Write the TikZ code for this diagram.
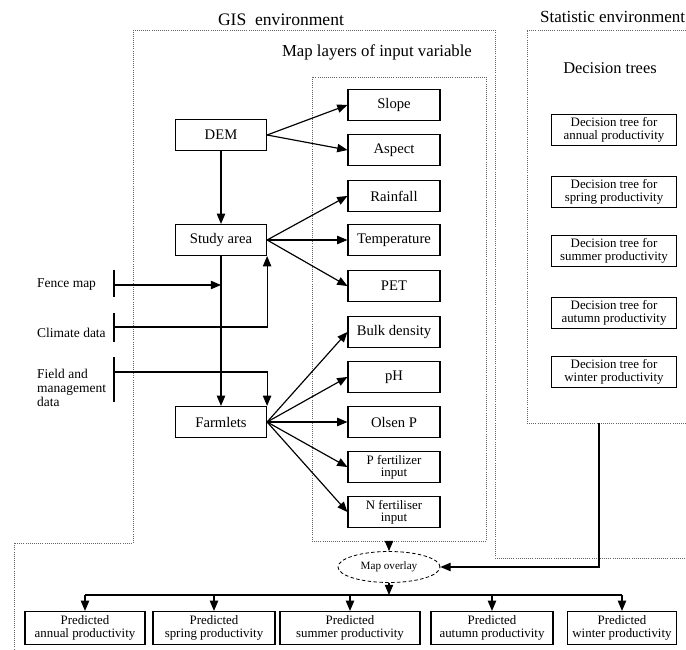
\documentclass[tikz,border=0pt]{standalone}
\usepackage{fontspec}
\setmainfont{Liberation Serif}
\usetikzlibrary{shapes.geometric, arrows}

\tikzset{
  env/.style={draw=gray!80!black, densely dotted, line width=0.8pt},
  proc/.style={draw, line width=1pt, minimum width=2.73cm, minimum height=0.93cm, inner sep=1pt, font=\fontsize{12.5}{12}\selectfont},
  layer/.style={proc, minimum width=2.76cm, align=center},
  tree/.style={draw, line width=1pt, minimum width=3.75cm, minimum height=0.93cm, inner sep=1pt, align=center, font=\fontsize{11}{10.5}\selectfont},
  result/.style={draw, line width=1pt, minimum height=0.99cm, inner sep=1pt, align=center, font=\fontsize{11}{10.5}\selectfont},
  side/.style={anchor=west, align=left, inner sep=0pt, font=\fontsize{11.5}{12}\selectfont},
  conn/.style={-triangle 45, line width=1pt},
}

\begin{document}
\begin{tikzpicture}[x=0.03cm, y=-0.03cm]
    \useasboundingbox (0,0) rectangle (686,650);
    \clip (0,0) rectangle (686,650);

    % environments
    \draw[env] (700,558) -- (495,558) -- (495,30) -- (133,30) -- (133,543) -- (14,543) -- (14,660);
    \node[font=\fontsize{15}{15}\selectfont] (gislbl) at (281,20) {GIS\ \ environment};
    \node[env, minimum width=5.22cm, minimum height=13.92cm] (layers) at (399,309) {};
    \node[font=\fontsize{14.3}{14}\selectfont] (layerslbl) at (377,52) {Map layers of input variable};
    \node[env, minimum width=5.19cm, minimum height=11.79cm] (stat) at (613.5,226.5) {};
    \node[anchor=west, font=\fontsize{14.5}{14}\selectfont] (statlbl) at (536,17) {Statistic environment};
    \node[font=\fontsize{14}{14}\selectfont] (treeslbl) at (610,68) {Decision trees};

    % GIS processing
    \node[proc] (dem) at (221,135) {DEM};
    \node[proc] (study) at (221,240) {Study area};
    \node[proc] (farm) at (221,422) {Farmlets};

    % map layers
    \foreach \name/\y/\txt in {slope/105/Slope, aspect/150/Aspect, rain/196/Rainfall,
        temp/240/Temperature, pet/286/PET, bulk/332/Bulk density, ph/377/pH, olsen/422/Olsen P}
        \node[layer] (\name) at (394,\y) {\txt};
    \node[layer, font=\fontsize{11}{10.5}\selectfont] (pfert) at (394,467) {P fertilizer\\input};
    \node[layer, font=\fontsize{11}{10.5}\selectfont] (nfert) at (394,512) {N fertiliser\\input};

    \draw[conn] (dem.east) -- (slope.west);
    \draw[conn] (dem.east) -- (aspect.west);
    \foreach \to in {rain, temp, pet}
        \draw[conn] (study.east) -- (\to.west);
    \foreach \to in {bulk, ph, olsen, pfert, nfert}
        \draw[conn] (farm.east) -- (\to.west);
    \draw[conn] (dem) -- (study);
    \draw[conn] (study) -- (farm);

    % outside data
    \node[side] (fence) at (37,285) {Fence map};
    \node[side] (climate) at (37,333) {Climate data};
    \node[side] (field) at (37,388) {Field and\\management\\data};
    \draw[line width=1pt] (114,270) -- (114,297);
    \draw[line width=1pt] (114,313) -- (114,342);
    \draw[line width=1pt] (114,357) -- (114,402);
    \coordinate (fencein) at (114,285);
    \coordinate (climatein) at (114,327);
    \coordinate (fieldin) at (114,372);
    \draw[conn] (fencein) -- (study.south |- fencein);
    \draw[conn] (climatein) -| (study.south east);
    \draw[conn] (fieldin) -| (farm.north east);

    % decision trees
    \foreach \s/\y in {annual/130, spring/192, summer/251, autumn/313, winter/372}
        \node[tree] (tree\s) at (614,\y) {Decision tree for\\\s\ productivity};

    % overlay and results
    \node[ellipse, draw, densely dashed, line width=0.7pt, minimum width=3.06cm, minimum height=0.93cm,
        inner sep=0pt, font=\fontsize{9.5}{9}\selectfont] (overlay) at (389,567) {Map overlay};
    \draw[conn] (overlay.north |- layers.south) -- (overlay.north);
    \coordinate (statout) at (599,423);
    \draw[conn] (statout) |- (overlay.east);

    \foreach \s/\x/\w in {annual/85/3.6, spring/214/3.66, summer/350/4.2, autumn/492/3.66, winter/622/3.27}
        \node[result, minimum width=\w cm] (pred\s) at (\x,628) {Predicted\\\s\ productivity};
    \coordinate (bus) at (389,595);
    \draw[conn] (overlay.south) -- (bus);
    \draw[line width=1pt] (predannual.north |- bus) -- (predwinter.north |- bus);
    \foreach \s in {annual, spring, summer, autumn, winter}
        \draw[conn] (pred\s.north |- bus) -- (pred\s.north);
\end{tikzpicture}
\end{document}
